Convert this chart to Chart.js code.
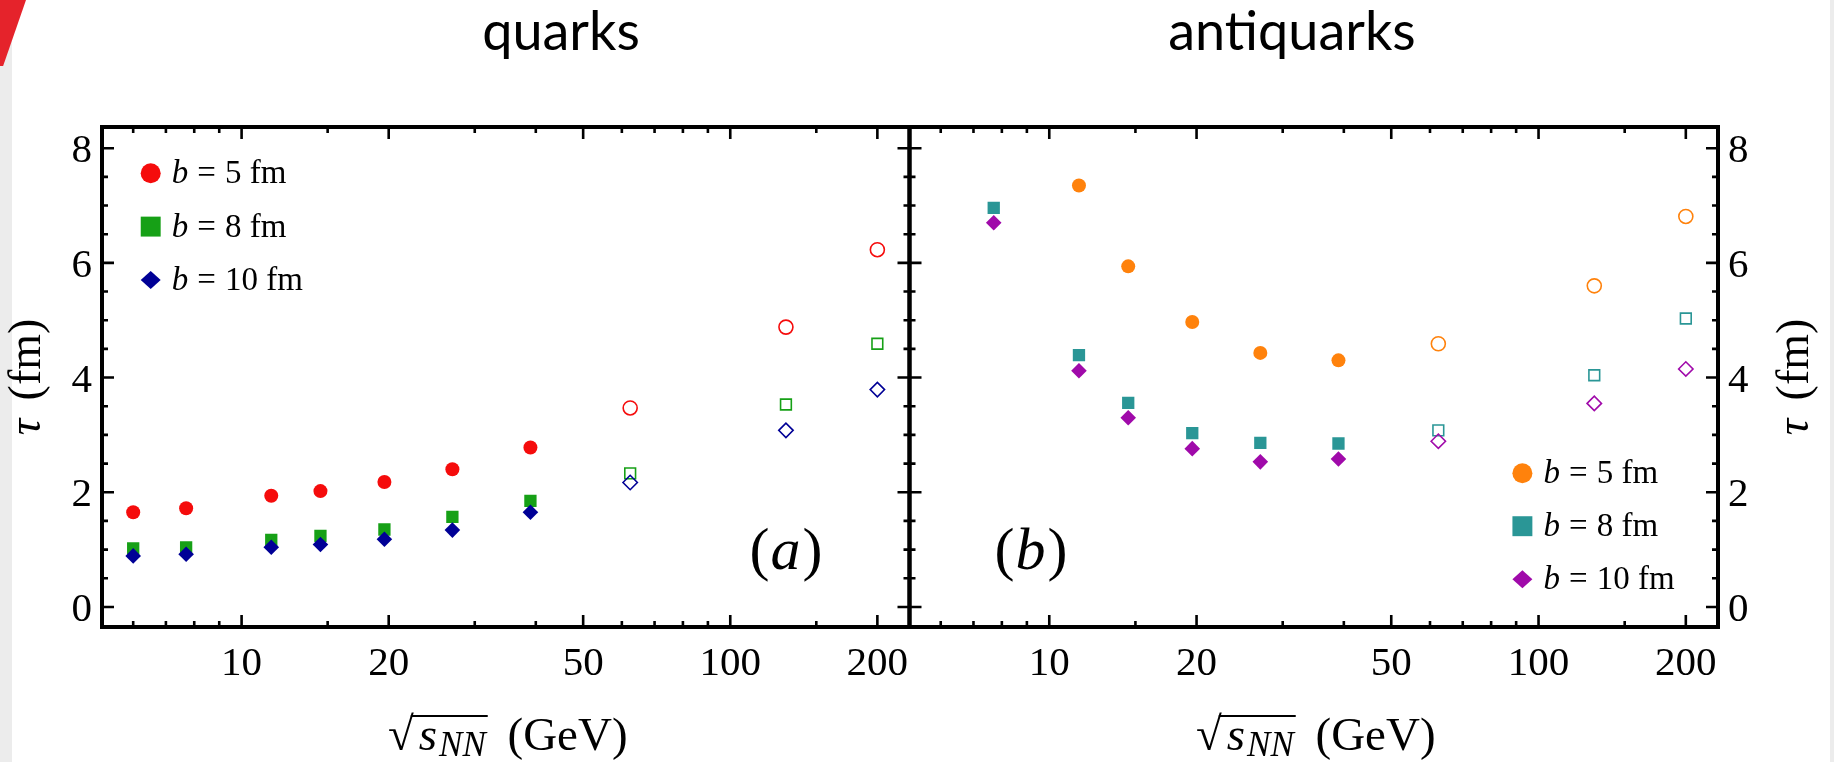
<!DOCTYPE html>
<html>
<head>
<meta charset="utf-8">
<script src="https://cdn.jsdelivr.net/npm/chart.js@4.4.0/dist/chart.umd.min.js"></script>
<style>
  html, body { margin: 0; padding: 0; background: #ffffff; }
  body { width: 1834px; height: 762px; position: relative; overflow: hidden; }
  .layer { position: absolute; left: 0; top: 0; width: 1834px; height: 762px; }
  .strip { position: absolute; background: #ececec; }
  .redmark { position: absolute; left: 0; top: 0; width: 26px; height: 66px; background: #e5232b;
             clip-path: polygon(0 0, 100% 0, 12% 100%, 0 100%); }
</style>
</head>
<body>
<div class="strip" style="left:0;top:0;width:12px;height:762px;"></div>
<div class="strip" style="left:1830px;top:0;width:4px;height:762px;"></div>
<div class="redmark"></div>
<div class="layer"><canvas id="quarkChart"></canvas></div>
<div class="layer"><canvas id="antiChart"></canvas></div>
<script>
// ---------------- data ----------------
const quarkEnergies = [6.0, 7.7, 11.5, 14.5, 19.6, 27, 39, 62.4, 130, 200];
const quarkB5  = [1.65, 1.72, 1.94, 2.02, 2.18, 2.40, 2.78, 3.47, 4.88, 6.23];
const quarkB8  = [1.02, 1.04, 1.17, 1.24, 1.35, 1.57, 1.85, 2.33, 3.53, 4.59];
const quarkB10 = [0.89, 0.92, 1.04, 1.09, 1.18, 1.34, 1.65, 2.17, 3.08, 3.79];

const antiEnergies = [7.7, 11.5, 14.5, 19.6, 27, 39, 62.4, 130, 200];
const antiB5  = [null, 7.35, 5.94, 4.97, 4.43, 4.30, 4.59, 5.60, 6.81];
const antiB8  = [6.96, 4.39, 3.56, 3.03, 2.86, 2.85, 3.08, 4.04, 5.03];
const antiB10 = [6.70, 4.12, 3.30, 2.76, 2.53, 2.58, 2.89, 3.55, 4.15];

const seriesLabels = ['b = 5 fm', 'b = 8 fm', 'b = 10 fm'];
const panelTitles = ['quarks', 'antiquarks'];
const panelTags = ['a', 'b'];
const xTickLabels = [10, 20, 50, 100, 200];
const xMinorTicks = [6, 7, 8, 9, 15, 30, 40, 60, 70, 80, 90, 150];
const yTickLabels = [0, 2, 4, 6, 8];
const yMinorTicks = [0.5, 1, 1.5, 2.5, 3, 3.5, 4.5, 5, 5.5, 6.5, 7, 7.5];
const xRange = [5.18, 232.7];
const yRange = [-0.35, 8.37];

// ---------------- styling ----------------
const SERIF = '"Liberation Serif", "DejaVu Serif", serif';
const quarkColors = ['rgb(245,12,12)', 'rgb(22,160,22)', 'rgb(0,0,150)'];
const antiColors  = ['rgb(255,130,12)', 'rgb(42,150,150)', 'rgb(160,10,170)'];
const shapes = ['circle', 'rect', 'rectRot'];
const filledRadius = [7, 8.7, 7.8];
const openRadius = [7, 7.6, 7.2];
const legendRadius = [10, 14.1, 10];
const OPEN_ABOVE = 50; // energies above this are drawn as open symbols

function isOpen(c) { return c.raw && c.raw.x > OPEN_ABOVE; }

function drawMarker(ctx, shape, x, y, r, color) {
  ctx.beginPath();
  if (shape === 'circle') ctx.arc(x, y, r, 0, Math.PI * 2);
  else if (shape === 'rect') { const s = r * Math.SQRT1_2; ctx.rect(x - s, y - s, 2 * s, 2 * s); }
  else { ctx.moveTo(x - r, y); ctx.lineTo(x, y - r * 0.9); ctx.lineTo(x + r, y); ctx.lineTo(x, y + r * 0.9); ctx.closePath(); }
  ctx.fillStyle = color; ctx.fill();
}

function richWidth(ctx, parts) {
  let w = 0;
  for (const p of parts) { ctx.font = p.f; w += ctx.measureText(p.t).width + (p.dx || 0); }
  return w;
}
function drawRich(ctx, parts, x, y, align) {
  const w = richWidth(ctx, parts);
  let cx = align === 'center' ? x - w / 2 : (align === 'right' ? x - w : x);
  const over = [];
  ctx.textAlign = 'left'; ctx.textBaseline = 'alphabetic';
  for (const p of parts) {
    ctx.font = p.f;
    cx += (p.dx || 0);
    const tw = ctx.measureText(p.t).width;
    ctx.fillText(p.t, cx, y + (p.dy || 0));
    if (p.over) over.push([cx, cx + tw]);
    cx += tw;
  }
  return over;
}

const panelPlugin = {
  id: 'panel',
  afterDraw(chart, args, o) {
    const ctx = chart.ctx, a = chart.chartArea, xs = chart.scales.x, ys = chart.scales.y;
    ctx.save();
    ctx.strokeStyle = '#000'; ctx.fillStyle = '#000'; ctx.lineCap = 'butt';
    // inward ticks on all four sides
    ctx.lineWidth = 2.6;
    const vt = (v, len) => {
      const px = xs.getPixelForValue(v);
      ctx.beginPath();
      ctx.moveTo(px, a.bottom); ctx.lineTo(px, a.bottom - len);
      ctx.moveTo(px, a.top); ctx.lineTo(px, a.top + len);
      ctx.stroke();
    };
    const ht = (v, len) => {
      const py = ys.getPixelForValue(v);
      ctx.beginPath();
      ctx.moveTo(a.left, py); ctx.lineTo(a.left + len, py);
      ctx.moveTo(a.right, py); ctx.lineTo(a.right - len, py);
      ctx.stroke();
    };
    xTickLabels.forEach(v => vt(v, 12));
    xMinorTicks.forEach(v => vt(v, 6));
    yTickLabels.forEach(v => ht(v, 12));
    yMinorTicks.forEach(v => ht(v, 6));
    // frame
    ctx.lineWidth = 4;
    ctx.strokeRect(a.left, a.top, a.right - a.left, a.bottom - a.top);

    // tick labels
    ctx.fillStyle = '#000';
    ctx.font = '41px ' + SERIF;
    ctx.textBaseline = 'alphabetic';
    ctx.textAlign = 'center';
    xTickLabels.forEach(v => ctx.fillText(String(v), xs.getPixelForValue(v), a.bottom + 48));
    if (o.ySide === 'left') {
      ctx.textAlign = 'right';
      yTickLabels.forEach(v => ctx.fillText(String(v), a.left - 10, ys.getPixelForValue(v) + 14));
    } else {
      ctx.textAlign = 'left';
      yTickLabels.forEach(v => ctx.fillText(String(v), a.right + 10, ys.getPixelForValue(v) + 14));
    }

    // panel title
    ctx.font = '54px Lato';
    ctx.textAlign = 'center';
    ctx.fillText(o.title, o.titleX, 50);

    // x axis title: sqrt(s_NN) (GeV)
    const xc = (a.left + a.right) / 2 + 2;
    const ov = drawRich(ctx, [
      { t: '\u221A', f: '47px ' + SERIF },
      { t: 's', f: 'italic 47px ' + SERIF, over: true, dx: 5 },
      { t: 'NN', f: 'italic 35px ' + SERIF, dy: 6, over: true, dx: 2 },
      { t: ' (GeV)', f: '47px ' + SERIF, dx: 10 }
    ], xc, 750, 'center');
    ctx.lineWidth = 2;
    ctx.beginPath();
    ctx.moveTo(ov[0][0] - 8, 716); ctx.lineTo(ov[ov.length - 1][1] + 2, 716);
    ctx.stroke();

    // y axis title: tau (fm), rotated
    ctx.save();
    ctx.translate(o.yTitleX, (a.top + a.bottom) / 2);
    ctx.rotate(-Math.PI / 2);
    drawRich(ctx, [
      { t: '\u03C4', f: 'italic 46px ' + SERIF },
      { t: ' (fm)', f: '46px ' + SERIF, dx: 7 }
    ], 0, 9, 'center');
    ctx.restore();

    // panel tag (a)/(b)
    drawRich(ctx, [
      { t: '(', f: '60px ' + SERIF },
      { t: o.tag, f: 'italic 60px ' + SERIF, dx: 1 },
      { t: ')', f: '60px ' + SERIF, dx: 2 }
    ], o.tagX, 569, 'center');

    // legend
    chart.data.datasets.forEach((ds, i) => {
      const y = o.legendY + i * o.legendDy;
      drawMarker(ctx, shapes[i], o.legendX, y, legendRadius[i], ds.backgroundColor);
      ctx.fillStyle = '#000';
      const lbl = ds.label;
      const eq = lbl.indexOf('=');
      drawRich(ctx, [
        { t: lbl.charAt(0), f: 'italic 33px ' + SERIF },
        { t: '=', f: '33px ' + SERIF, dx: 9 },
        { t: lbl.slice(eq + 1), f: '33px ' + SERIF, dx: 1 }
      ], o.legendX + 21, y + 10, 'left');
    });
    ctx.restore();
  }
};

function makeChart(canvasId, energies, seriesList, colors, pad, pluginOpts) {
  const datasets = seriesList.map((vals, i) => ({
    label: seriesLabels[i],
    data: energies.map((x, j) => ({ x: x, y: vals[j] })).filter(p => p.y !== null),
    backgroundColor: colors[i],
    borderColor: colors[i],
    order: -i,
    pointStyle: shapes[i],
    pointRadius: c => isOpen(c) ? openRadius[i] : filledRadius[i],
    pointHoverRadius: c => isOpen(c) ? openRadius[i] : filledRadius[i],
    pointBackgroundColor: c => isOpen(c) ? 'rgba(255,255,255,0)' : colors[i],
    pointBorderColor: colors[i],
    pointBorderWidth: c => isOpen(c) ? 1.6 : 0,
    showLine: false
  }));
  return new Chart(document.getElementById(canvasId), {
    type: 'scatter',
    data: { datasets },
    options: {
      responsive: true,
      maintainAspectRatio: false,
      animation: false,
      devicePixelRatio: 1,
      layout: { padding: pad },
      scales: {
        x: { type: 'logarithmic', min: xRange[0], max: xRange[1], display: false },
        y: { type: 'linear', min: yRange[0], max: yRange[1], display: false }
      },
      plugins: {
        legend: { display: false },
        tooltip: { enabled: false },
        panel: pluginOpts
      }
    },
    plugins: [panelPlugin]
  });
}

makeChart('quarkChart', quarkEnergies, [quarkB5, quarkB8, quarkB10], quarkColors,
  { left: 102, right: 1834 - 909.5, top: 127, bottom: 762 - 627 },
  { ySide: 'left', title: panelTitles[0], titleX: 561, yTitleX: 31, tag: panelTags[0], tagX: 786,
    legendX: 150.7, legendY: 173.3, legendDy: 53.3 });

makeChart('antiChart', antiEnergies, [antiB5, antiB8, antiB10], antiColors,
  { left: 909.5, right: 1834 - 1718, top: 127, bottom: 762 - 627 },
  { ySide: 'right', title: panelTitles[1], titleX: 1292, yTitleX: 1799, tag: panelTags[1], tagX: 1031,
    legendX: 1522.4, legendY: 473.2, legendDy: 53 });
</script>
</body>
</html>
